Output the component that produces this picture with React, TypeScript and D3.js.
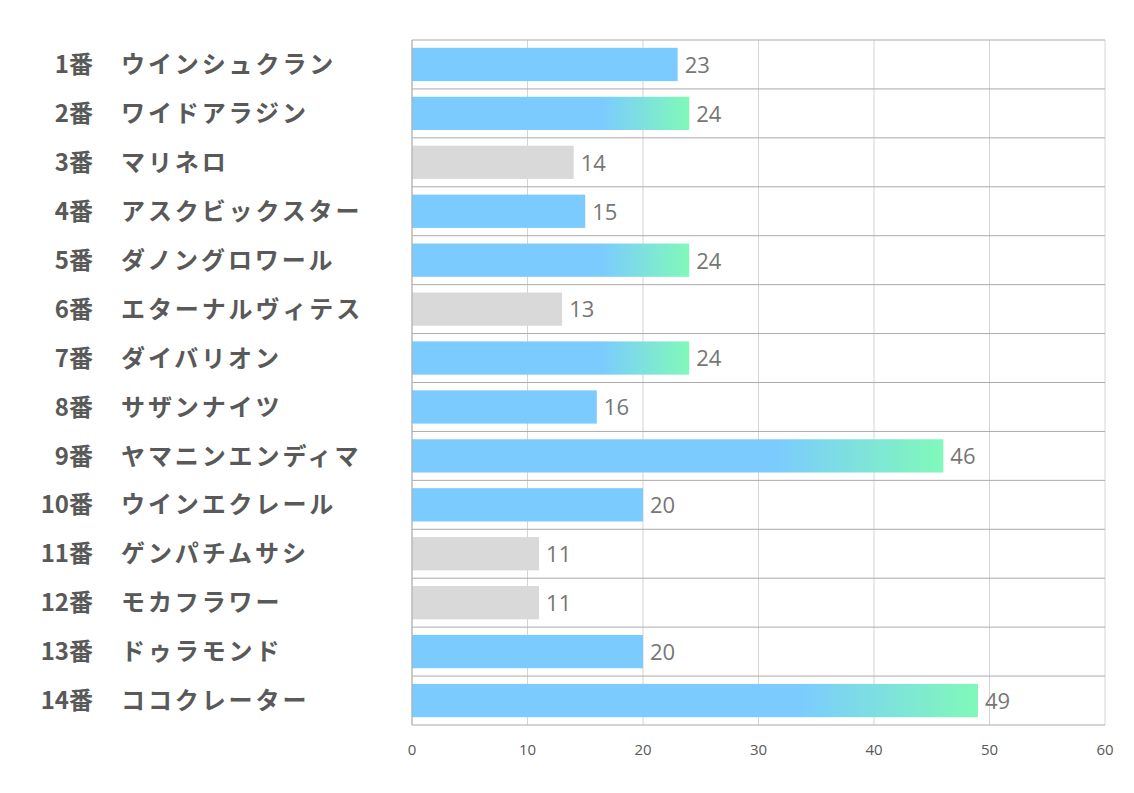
import React from "react";
import * as d3 from "d3";

const numbers = ["1番", "2番", "3番", "4番", "5番", "6番", "7番", "8番", "9番", "10番", "11番", "12番", "13番", "14番"];
const names = ["ウインシュクラン", "ワイドアラジン", "マリネロ", "アスクビックスター", "ダノングロワール", "エターナルヴィテス", "ダイバリオン", "サザンナイツ", "ヤマニンエンディマ", "ウインエクレール", "ゲンパチムサシ", "モカフラワー", "ドゥラモンド", "ココクレーター"];
const values = [23, 24, 14, 15, 24, 13, 24, 16, 46, 20, 11, 11, 20, 49];
// bar style per horse: "blue", "grad", "gray"
const styles = ["blue", "grad", "gray", "blue", "grad", "gray", "grad", "blue", "grad", "blue", "gray", "gray", "blue", "grad"];
const ticks = [0, 10, 20, 30, 40, 50, 60];

const W = 1134, H = 793;
const left = 412, right = 1105, top = 40, bottom = 725;

export default function App() {
  const x = d3.scaleLinear().domain([0, 60]).range([left, right]);
  const y = d3.scaleBand<number>().domain(d3.range(values.length)).range([top, bottom]).paddingInner(0.32).paddingOuter(0.16);
  const band = (bottom - top) / values.length;
  const fill = (s: string) => (s === "gray" ? "#D9D9D9" : s === "grad" ? "url(#g)" : "#7BCBFF");
  const jp = "'Noto Sans CJK JP', 'Noto Sans', sans-serif";
  const num = "'Open Sans', 'Noto Sans', sans-serif";
  return (
    <svg width={W} height={H} style={{ position: "absolute", left: 0, top: 0, background: "#fff" }}>
      <defs>
        <linearGradient id="g" x1="0" x2="1" y1="0" y2="0">
          <stop offset="0.68" stopColor="#7BCBFF" />
          <stop offset="1" stopColor="#80F9B9" />
        </linearGradient>
      </defs>
      {ticks.map((t) => (
        <line key={"v" + t} x1={x(t)} x2={x(t)} y1={top} y2={bottom} stroke="#D4D4D4" strokeWidth={1} />
      ))}
      {values.map((v, i) => (
        <rect key={"b" + i} x={x(0)} y={y(i)!} width={x(v) - x(0)} height={y.bandwidth()} fill={fill(styles[i])} />
      ))}
      {d3.range(values.length + 1).map((i) => (
        <line key={"h" + i} x1={left} x2={right} y1={top + i * band} y2={top + i * band} stroke="#ABABAB" strokeWidth={1} />
      ))}
      <line x1={left} x2={left} y1={top} y2={bottom} stroke="#ABABAB" />
      {values.map((v, i) => (
        <text key={"t" + i} x={x(v) + 7} y={y(i)! + y.bandwidth() / 2} dy="0.38em" fontFamily={num} fontSize={22} fill="#767676">
          {v}
        </text>
      ))}
      {values.map((v, i) => (
        <g key={"l" + i} fontFamily={jp} fontWeight="bold" fontSize={24} fill="#595959">
          <text x={93} y={y(i)! + y.bandwidth() / 2} dy="0.36em" textAnchor="end">{numbers[i]}</text>
          <text x={121} y={y(i)! + y.bandwidth() / 2} dy="0.36em" letterSpacing={2.9}>{names[i]}</text>
        </g>
      ))}
      {ticks.map((t) => (
        <text key={"k" + t} x={x(t)} y={755} textAnchor="middle" fontFamily={num} fontSize={15} fill="#595959">
          {t}
        </text>
      ))}
    </svg>
  );
}
